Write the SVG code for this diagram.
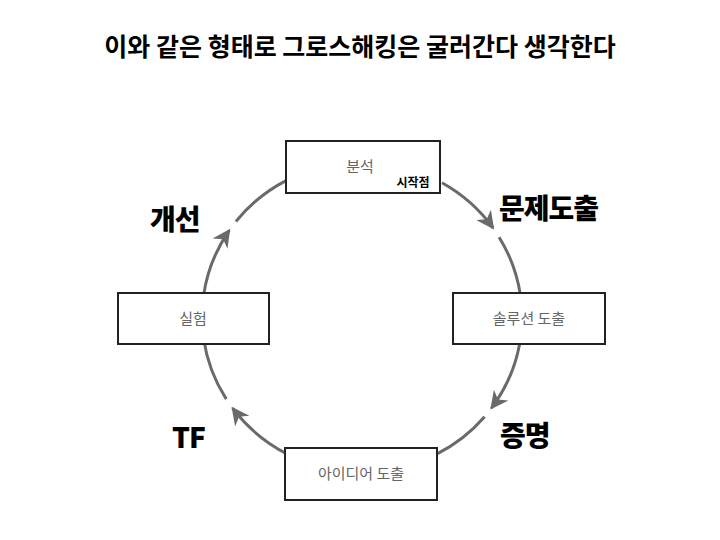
<svg xmlns="http://www.w3.org/2000/svg" width="720" height="540" viewBox="0 0 720 540">
<style>
.arc{fill:none;stroke:#6a6a6a;stroke-width:3}
.box{fill:#fff;stroke:#222;stroke-width:2}
.nt{font-family:"Noto Sans CJK KR",sans-serif;font-size:15px;fill:#666;text-anchor:middle}
.lb{font-family:"Noto Sans CJK KR",sans-serif;font-size:28px;font-weight:900;fill:#000;letter-spacing:-1px}
</style>
<defs><marker id="ah" viewBox="0 0 10 10" refX="9" refY="5" markerWidth="6" markerHeight="6" markerUnits="strokeWidth" orient="auto"><path d="M0,0 L10,5 L0,10 L3,5 Z" fill="#6a6a6a"/></marker></defs>
<rect width="720" height="540" fill="#fff"/>
<text x="360" y="56" text-anchor="middle" font-family="Noto Sans CJK KR,sans-serif" font-size="25" font-weight="700">이와 같은 형태로 그로스해킹은 굴러간다 생각한다</text>
<g id="connectors">
<path class="arc" d="M442,182.8 A160,155 0 0 1 493.1,228" marker-end="url(#ah)"/>
<path class="arc" d="M499.1,237.2 A160,155 0 0 1 520.4,295.4"/>
<path class="arc" d="M519.6,343.9 A160,155 0 0 1 491.4,408.1" marker-end="url(#ah)"/>
<path class="arc" d="M484.6,416.7 A160,155 0 0 1 437.1,453.9"/>
<path class="arc" d="M287,453.9 A160,155 0 0 1 232.6,408.1" marker-end="url(#ah)"/>
<path class="arc" d="M226.3,399.1 A160,155 0 0 1 203.6,338.6"/>
<path class="arc" d="M203.6,295.4 A160,155 0 0 1 229.3,230.3" marker-end="url(#ah)"/>
<path class="arc" d="M235.9,221.5 A160,155 0 0 1 287,180.1"/>
</g>
<g id="n1"><rect class="box" x="286" y="141" width="154" height="52"/><text class="nt" x="360" y="172">분석</text><text x="413" y="187" text-anchor="middle" font-family="Noto Sans CJK KR,sans-serif" font-size="12" font-weight="700">시작점</text></g>
<g id="n2"><rect class="box" x="453" y="293" width="152" height="51"/><text class="nt" x="529" y="324">솔루션 도출</text></g>
<g id="n3"><rect class="box" x="285" y="448" width="152" height="52"/><text class="nt" x="361" y="479">아이디어 도출</text></g>
<g id="n4"><rect class="box" x="118" y="293" width="151" height="51"/><text class="nt" x="193" y="324">실험</text></g>
<text class="lb" x="499" y="219">문제도출</text>
<text class="lb" x="500" y="446">증명</text>
<text class="lb" x="172" y="448" letter-spacing="-3">TF</text>
<text class="lb" x="150" y="230">개선</text>
</svg>
